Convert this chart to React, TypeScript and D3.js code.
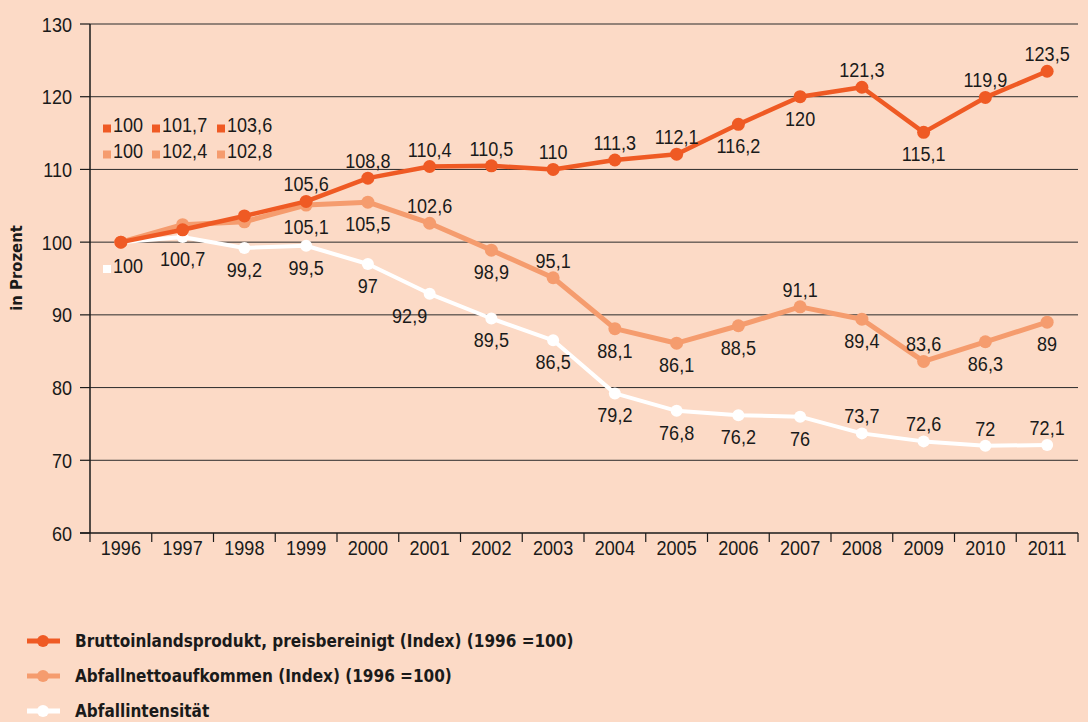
import * as d3 from 'd3'

const years = ['1996', '1997', '1998', '1999', '2000', '2001', '2002', '2003', '2004', '2005', '2006', '2007', '2008', '2009', '2010', '2011']
const bip = [100, 101.7, 103.6, 105.6, 108.8, 110.4, 110.5, 110, 111.3, 112.1, 116.2, 120, 121.3, 115.1, 119.9, 123.5]
const netto = [100, 102.4, 102.8, 105.1, 105.5, 102.6, 98.9, 95.1, 88.1, 86.1, 88.5, 91.1, 89.4, 83.6, 86.3, 89]
const intens = [100, 100.7, 99.2, 99.5, 97, 92.9, 89.5, 86.5, 79.2, 76.8, 76.2, 76, 73.7, 72.6, 72, 72.1]
const yTicks = [60, 70, 80, 90, 100, 110, 120, 130]

// label placement per point: a = above, b = below, k = in the key box at top left, s = square key below
const bipPos = ['k', 'k', 'k', 'a', 'a', 'a', 'a', 'a', 'a', 'a', 'b', 'b', 'a', 'b', 'a', 'a']
const nettoPos = ['k', 'k', 'k', 'b', 'b', 'a', 'b', 'a', 'b', 'b', 'b', 'a', 'b', 'a', 'b', 'b']
const intensPos = ['s', 'b', 'b', 'b', 'b', 'b', 'b', 'b', 'b', 'b', 'b', 'b', 'a', 'a', 'a', 'a']

const series = [
  { name: 'Abfallintensität', values: intens, pos: intensPos, color: '#ffffff', width: 4, r: 6 },
  { name: 'Abfallnettoaufkommen (Index) (1996 =100)', values: netto, pos: nettoPos, color: '#f59c6e', width: 5, r: 6.5 },
  { name: 'Bruttoinlandsprodukt, preisbereinigt (Index) (1996 =100)', values: bip, pos: bipPos, color: '#ef5a24', width: 4.5, r: 6.5 },
]

const fmt = (v: number) => String(v).replace('.', ',')
const dinFont = '"DejaVu Sans Condensed", "DejaVu Sans", sans-serif'

// narrow number text: Liberation Sans squeezed horizontally
function Num({ x, y, anchor = 'start', children }: { x: number, y: number, anchor?: string, children: any }) {
  return (
    <text transform={`translate(${x},${y}) scale(0.86,1)`} textAnchor={anchor}
      fontSize={21} fontFamily='"Liberation Sans", Arial, sans-serif' fill="#1a1a1a">{children}</text>
  )
}

export default function App() {
  const left = 90
  const right = 1078
  const top = 24
  const bottom = 533

  const x = d3.scaleBand().domain(years).range([left, right])
  const y = d3.scaleLinear().domain([60, 130]).range([bottom, top])
  const cx = (i: number) => (x(years[i]) || 0) + x.bandwidth() / 2

  const line = d3.line<number>()
    .x((_, i) => cx(i))
    .y(d => y(d))

  const labels: JSX.Element[] = []
  series.forEach((s, si) => {
    s.values.forEach((v, i) => {
      const p = s.pos[i]
      if (p === 'a' || p === 'b') {
        let dx = 0
        if (si === 0 && i === 5) dx = -20
        labels.push(
          <Num key={`l${si}-${i}`} x={cx(i) + dx} y={y(v) + (p === 'a' ? -10 : 29)} anchor="middle">{fmt(v)}</Num>
        )
      }
    })
  })

  // key box for the first points of the two upper series
  const keyRows = [series[2], series[1]]
  const keyX = [103, 152, 217]
  const keyBase = [132, 158]

  const legend = [series[2], series[1], series[0]]

  return (
    <svg width={1088} height={722} style={{ position: 'absolute', left: 0, top: 0, background: '#fcdac6' }}>
      <rect width={1088} height={722} fill="#fcdac6" />
      {yTicks.filter(t => t > 60).map(t => (
        <line key={`g${t}`} x1={left} x2={right} y1={y(t)} y2={y(t)} stroke="#2b2b2b" strokeWidth={1} />
      ))}
      {yTicks.map(t => (
        <g key={`t${t}`}>
          <line x1={left - 10} x2={left} y1={y(t)} y2={y(t)} stroke="#1a1a1a" strokeWidth={1.2} />
          <Num x={left - 18} y={y(t) + 7.5} anchor="end">{t}</Num>
        </g>
      ))}
      <line x1={left} x2={left} y1={top} y2={bottom} stroke="#1a1a1a" strokeWidth={1.5} />
      <line x1={left - 10} x2={right} y1={bottom} y2={bottom} stroke="#1a1a1a" strokeWidth={1.5} />
      {years.map((yr, i) => (
        <g key={`x${yr}`}>
          <line x1={x(yr) || 0} x2={x(yr) || 0} y1={bottom} y2={bottom + 9} stroke="#1a1a1a" strokeWidth={1.2} />
          <Num x={cx(i)} y={bottom + 22} anchor="middle">{yr}</Num>
        </g>
      ))}
      <line x1={right} x2={right} y1={bottom} y2={bottom + 9} stroke="#1a1a1a" strokeWidth={1.2} />

      <text transform="translate(22,268) rotate(-90)" textAnchor="middle" fontSize={16.5} fontWeight={600} fontFamily={dinFont} fill="#1a1a1a">in Prozent</text>

      {series.map(s => (
        <g key={s.name}>
          <path d={line(s.values) || ''} fill="none" stroke={s.color} strokeWidth={s.width} strokeLinejoin="round" />
          {s.values.map((v, i) => (
            <circle key={i} cx={cx(i)} cy={y(v)} r={s.r} fill={s.color} />
          ))}
        </g>
      ))}

      {labels}

      {keyRows.map((s, r) => keyX.map((kx, k) => (
        <g key={`k${r}-${k}`}>
          <rect x={kx} y={keyBase[r] - 7.5} width={8} height={8} fill={s.color} />
          <Num x={kx + 10} y={keyBase[r]}>{fmt(s.values[k])}</Num>
        </g>
      )))}
      <rect x={103} y={265} width={8} height={8} fill="#ffffff" />
      <Num x={113} y={273}>{fmt(intens[0])}</Num>

      {legend.map((s, i) => {
        const ly = 641 + i * 35
        return (
          <g key={`lg${i}`}>
            <line x1={27} x2={60} y1={ly} y2={ly} stroke={s.color} strokeWidth={5} />
            <circle cx={43} cy={ly} r={6} fill={s.color} />
            <text x={75} y={ly} dy="0.36em" fontSize={17} fontWeight={600} fontFamily={dinFont} fill="#1a1a1a">{s.name}</text>
          </g>
        )
      })}
    </svg>
  )
}
